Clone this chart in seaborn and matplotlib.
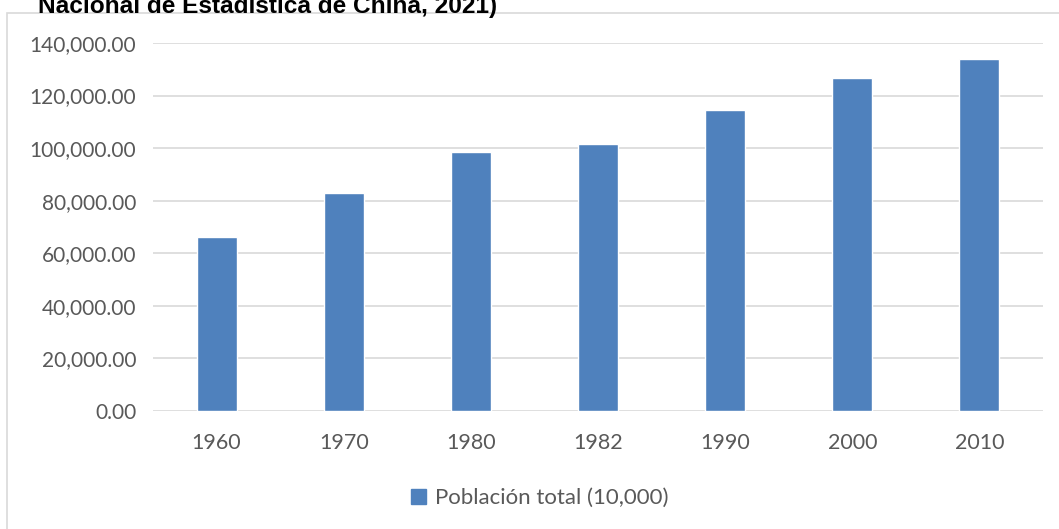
import matplotlib
matplotlib.use("Agg")
import matplotlib.pyplot as plt
import matplotlib.patches as mpatches
import seaborn as sns
import pandas as pd

years = ["1960", "1970", "1980", "1982", "1990", "2000", "2010"]
population = [66207, 82992, 98705, 101654, 114333, 126743, 134091]
yticks = [0, 20000, 40000, 60000, 80000, 100000, 120000, 140000]
series_label = "Población total (10,000)"
title_text = "Nacional de Estadística de China, 2021)"

sns.set_theme(style="white")
plt.rcParams["font.family"] = ["Lato", "DejaVu Sans"]

BAR = "#4F81BD"
GRID = "#D9D9D9"
TXT = "#595959"

fig = plt.figure(figsize=(10.59, 5.29), dpi=100)
ax = fig.add_axes([153/1059, 1 - 411/529, (1043-153)/1059, (411-43)/529])

df = pd.DataFrame({"year": years, "pop": population})
sns.barplot(data=df, x="year", y="pop", color=BAR, saturation=1, width=0.315, ax=ax, zorder=3)

ax.set_xlim(-0.5, len(years) - 0.5)
ax.set_ylim(0, 140000)
ax.set_yticks(yticks)
ax.set_yticklabels([f"{v:,.2f}" for v in yticks])
ax.yaxis.grid(True, color=GRID, linewidth=1.2, zorder=0)
ax.set_axisbelow(True)
for s in ax.spines.values():
    s.set_visible(False)
ax.tick_params(axis="y", length=0, pad=12, labelsize=15, labelcolor=TXT)
ax.tick_params(axis="x", length=0, pad=16, labelsize=15.5, labelcolor=TXT)
ax.set_xlabel("")
ax.set_ylabel("")

# chart border
fig.patches.append(mpatches.Rectangle((7/1059, -0.1), 1.2, 1 - 13/529 + 0.1,
                                      transform=fig.transFigure, fill=False,
                                      edgecolor=GRID, linewidth=1.2))

handle = mpatches.Patch(color=BAR)
fig.legend([handle], [series_label], loc="center", bbox_to_anchor=(540/1059, 1 - 498/529),
           frameon=False, fontsize=16, labelcolor=TXT, handlelength=0.68, handleheight=0.68,
           handletextpad=0.4)

fig.text(38/1059, 1 - 13/529, title_text, fontsize=17.6, fontweight="bold",
         family=["Liberation Sans", "DejaVu Sans"], color="black", va="baseline", ha="left")

fig.savefig("out.png", dpi=100)
